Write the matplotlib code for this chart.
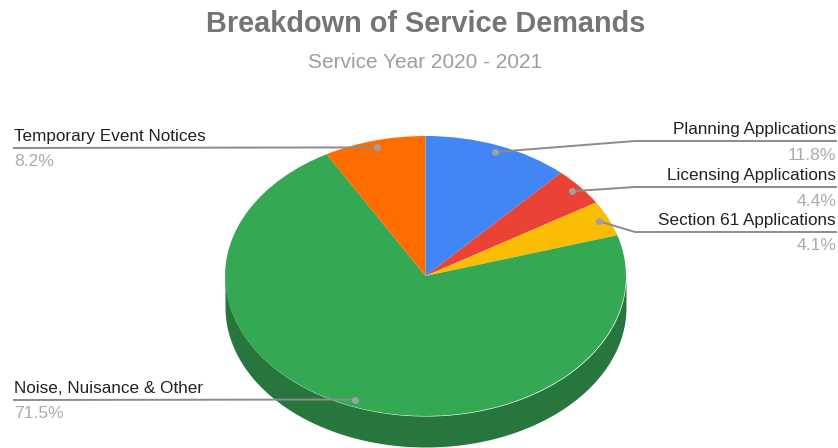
import numpy as np
import matplotlib
matplotlib.use('Agg')
import matplotlib.pyplot as plt

plt.rcParams['font.family'] = ['Liberation Sans', 'DejaVu Sans']

labels = ['Planning Applications', 'Licensing Applications', 'Section 61 Applications',
          'Noise, Nuisance & Other', 'Temporary Event Notices']
values = [11.8, 4.4, 4.1, 71.5, 8.2]
colors = ['#4285f4', '#ea4335', '#fbbc04', '#34a853', '#ff6d01']

WIDTH, HEIGHT = 838, 448
# ellipse geometry in pixels
CX, CY, RX, RY = 425.5, 276.0, 200.5, 140.0
DEPTH = 31.0
side_color = '#26763d'
line_color = '#8c8c8c'

fig = plt.figure(figsize=(WIDTH / 100, HEIGHT / 100), dpi=100)

# pie axes: unit circle stretched to the ellipse, with room below for the side wall
depth_u = DEPTH / RY
pie_ax = fig.add_axes([(CX - RX) / WIDTH, (HEIGHT - CY - RY - DEPTH) / HEIGHT,
                       2 * RX / WIDTH, (2 * RY + DEPTH) / HEIGHT])
wedges, _ = pie_ax.pie(values, colors=colors, startangle=90, counterclock=False,
                       radius=1, wedgeprops={'linewidth': 0, 'zorder': 3})
theta = np.linspace(np.pi, 2 * np.pi, 300)
pie_ax.fill_between(np.cos(theta), np.sin(theta), np.sin(theta) - depth_u,
                    color=side_color, linewidth=0, zorder=2)
pie_ax.set_aspect('auto')
pie_ax.set_xlim(-1, 1)
pie_ax.set_ylim(-1 - depth_u, 1)
pie_ax.axis('off')

# overlay in pixel coordinates for leaders and text
ax = fig.add_axes([0, 0, 1, 1], facecolor='none')
ax.set_xlim(0, WIDTH)
ax.set_ylim(HEIGHT, 0)
ax.axis('off')

ax.text(425.5, 23.5, 'Breakdown of Service Demands', ha='center', va='center',
        fontsize=20.8, fontweight='bold', color='#757575')
ax.text(425.5, 62.5, 'Service Year 2020 - 2021', ha='center', va='center',
        fontsize=15, color='#9e9e9e')

# leader layout: label side, y of the horizontal run
sides = ['right', 'right', 'right', 'left', 'left']
line_y = [141, 187, 232, 400, 148]
KNEE_X, RIGHT_X, LEFT_X = 635, 836, 14

mids = (np.cumsum(values) - np.array(values) / 2) / sum(values) * 2 * np.pi
for lab, val, mid, side, y in zip(labels, values, mids, sides, line_y):
    dx = CX + 0.95 * RX * np.sin(mid)
    dy = CY - 0.95 * RY * np.cos(mid)
    if side == 'right':
        ax.plot([dx, KNEE_X, RIGHT_X], [dy, y, y], color=line_color, lw=1.4, zorder=4)
        tx, ha = RIGHT_X, 'right'
    else:
        ax.plot([LEFT_X, dx], [y, dy], color=line_color, lw=1.4, zorder=4)
        tx, ha = LEFT_X, 'left'
    ax.plot(dx, dy, 'o', ms=5, color='#a0a0a0', mew=0, zorder=5)
    ax.text(tx, y - 11.5, lab, ha=ha, va='center', fontsize=12.3, color='#222222')
    ax.text(tx, y + 14, f'{val}%', ha=ha, va='center', fontsize=12.6, color='#ababab')

fig.savefig('out.png', dpi=100)
